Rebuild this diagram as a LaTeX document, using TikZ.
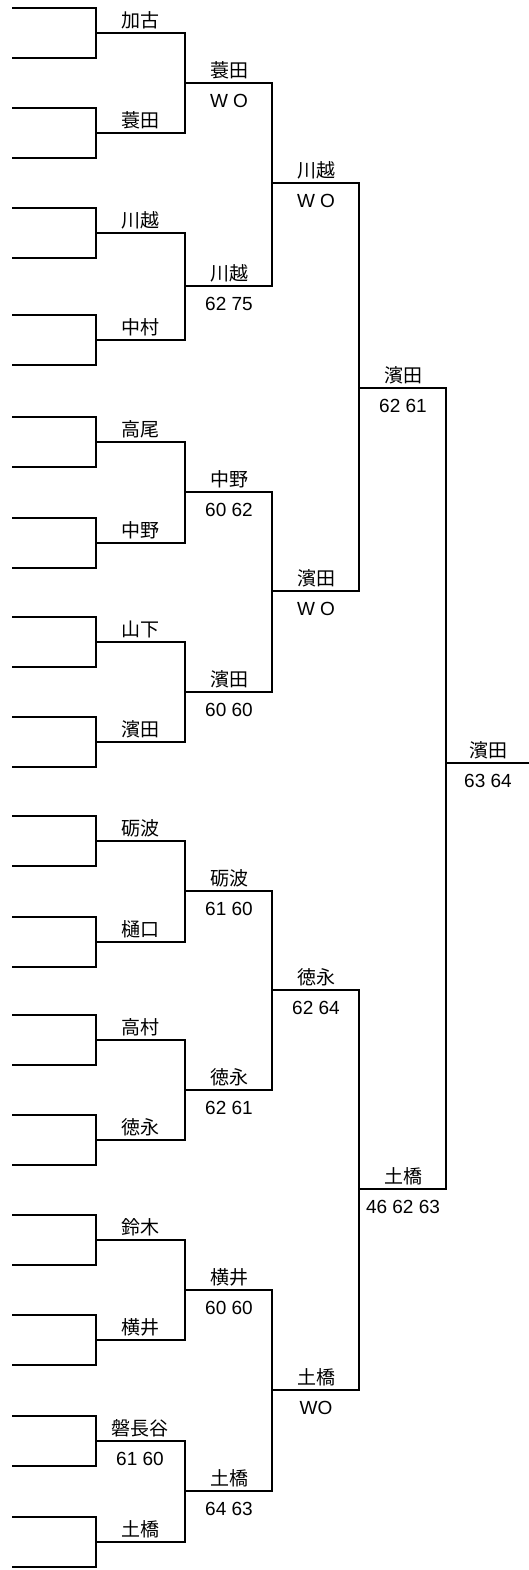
\documentclass[tikz,border=0pt]{standalone}
\usepackage{fontspec}
\setmainfont{Noto Sans CJK JP}
\newfontfamily\scorefont{Liberation Sans}

\tikzstyle{bracket} = [line width=0.95pt, line cap=rect]
\tikzstyle{namelbl} = [anchor=base, yshift=3pt, inner sep=0pt,
font=\fontsize{9.5}{11}\selectfont]
\tikzstyle{scorelbl} = [anchor=base, yshift=-12pt, inner sep=0pt,
font=\scorefont\fontsize{9.5}{11}\selectfont]

\begin{document}
\begin{tikzpicture}[x=0.5pt, y=-0.5pt]
    \useasboundingbox (0,0) rectangle (529,1570);
    % First round: blank pairs and their winners
    \foreach \y/\nm [count=\i] in {33/加古, 133/蓑田, 233/川越, 340/中村,
        442/高尾, 543/中野, 642/山下, 742/濱田, 841/砺波, 942/樋口,
        1040/高村, 1140/徳永, 1240/鈴木, 1340/横井, 1441/磐長谷, 1542/土橋} {
        \coordinate (Pa\i) at (13,\y-25);
        \coordinate (Pb\i) at (13,\y+25);
        \coordinate (A\i) at (96,\y);
        \draw [bracket] (Pa\i) -| (A\i) |- (Pb\i);
        \node (NA\i) [namelbl] at (140,\y) {\nm};
    }
    \node (SA15) [scorelbl] at (140,1441) {61 60};
    % Second round
    \coordinate (B1) at (185,83);
    \coordinate (B2) at (185,286);
    \coordinate (B3) at (185,492);
    \coordinate (B4) at (185,692);
    \coordinate (B5) at (185,891);
    \coordinate (B6) at (185,1090);
    \coordinate (B7) at (185,1290);
    \coordinate (B8) at (185,1491);
    \draw [bracket] (A1) -| (B1) |- (A2);
    \draw [bracket] (A3) -| (B2) |- (A4);
    \draw [bracket] (A5) -| (B3) |- (A6);
    \draw [bracket] (A7) -| (B4) |- (A8);
    \draw [bracket] (A9) -| (B5) |- (A10);
    \draw [bracket] (A11) -| (B6) |- (A12);
    \draw [bracket] (A13) -| (B7) |- (A14);
    \draw [bracket] (A15) -| (B8) |- (A16);
    \node (NB1) [namelbl] at (229,83) {蓑田};
    \node (SB1) [scorelbl] at (229,83) {W O};
    \node (NB2) [namelbl] at (229,286) {川越};
    \node (SB2) [scorelbl] at (229,286) {62 75};
    \node (NB3) [namelbl] at (229,492) {中野};
    \node (SB3) [scorelbl] at (229,492) {60 62};
    \node (NB4) [namelbl] at (229,692) {濱田};
    \node (SB4) [scorelbl] at (229,692) {60 60};
    \node (NB5) [namelbl] at (229,891) {砺波};
    \node (SB5) [scorelbl] at (229,891) {61 60};
    \node (NB6) [namelbl] at (229,1090) {徳永};
    \node (SB6) [scorelbl] at (229,1090) {62 61};
    \node (NB7) [namelbl] at (229,1290) {横井};
    \node (SB7) [scorelbl] at (229,1290) {60 60};
    \node (NB8) [namelbl] at (229,1491) {土橋};
    \node (SB8) [scorelbl] at (229,1491) {64 63};
    % Third round
    \coordinate (C1) at (272,183);
    \coordinate (C2) at (272,591);
    \coordinate (C3) at (272,990);
    \coordinate (C4) at (272,1390);
    \draw [bracket] (B1) -| (C1) |- (B2);
    \draw [bracket] (B3) -| (C2) |- (B4);
    \draw [bracket] (B5) -| (C3) |- (B6);
    \draw [bracket] (B7) -| (C4) |- (B8);
    \node (NC1) [namelbl] at (316,183) {川越};
    \node (SC1) [scorelbl] at (316,183) {W O};
    \node (NC2) [namelbl] at (316,591) {濱田};
    \node (SC2) [scorelbl] at (316,591) {W O};
    \node (NC3) [namelbl] at (316,990) {徳永};
    \node (SC3) [scorelbl] at (316,990) {62 64};
    \node (NC4) [namelbl] at (316,1390) {土橋};
    \node (SC4) [scorelbl] at (316,1390) {WO};
    % Semi-finals
    \coordinate (D1) at (359,388);
    \coordinate (D2) at (359,1189);
    \draw [bracket] (C1) -| (D1) |- (C2);
    \draw [bracket] (C3) -| (D2) |- (C4);
    \node (ND1) [namelbl] at (403,388) {濱田};
    \node (SD1) [scorelbl] at (403,388) {62 61};
    \node (ND2) [namelbl] at (403,1189) {土橋};
    \node (SD2) [scorelbl] at (403,1189) {46 62 63};
    % Final
    \coordinate (E1) at (446,763);
    \coordinate (Win) at (529,763);
    \draw [bracket] (D1) -| (E1) |- (D2);
    \draw [bracket] (E1) -- (Win);
    \node (NE1) [namelbl] at (488,763) {濱田};
    \node (SE1) [scorelbl] at (488,763) {63 64};
\end{tikzpicture}
\end{document}
